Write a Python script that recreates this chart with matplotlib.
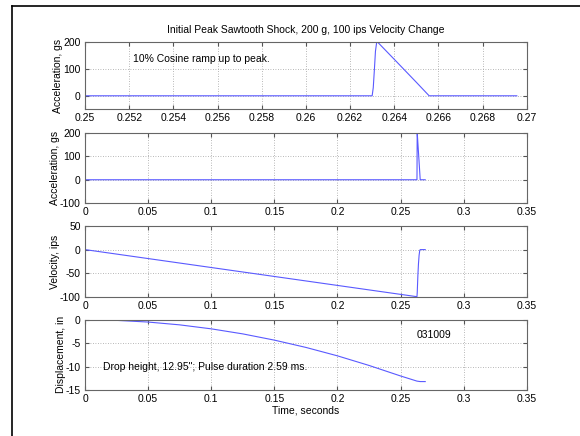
import matplotlib
matplotlib.use("Agg")
import matplotlib.pyplot as plt
from matplotlib.lines import Line2D

plt.rcParams['font.family'] = ['Liberation Sans', 'DejaVu Sans']
plt.rcParams['font.size'] = 7.5
plt.rcParams['axes.unicode_minus'] = False

# shock pulse (time in s, accel in g)
acc_t = [0.0, 0.2500, 0.26300, 0.26305, 0.26310, 0.26315, 0.26320, 0.26323,
         0.26400, 0.26500, 0.26558, 0.26955]
acc_g = [0, 0, 0, 30, 95, 165, 195, 200, 135, 50, 0, 0]

# velocity, ips
vel_t = [0.0, 0.2630, 0.26323, 0.2637, 0.2642, 0.2647, 0.2652, 0.26558, 0.26955]
vel_v = [0, -100, -91, -57, -30, -12, -2, 0, 0]

# displacement, in
dis_t = [0.0, 0.025, 0.05, 0.075, 0.1, 0.125, 0.15, 0.175, 0.2, 0.225, 0.25,
         0.263, 0.2656, 0.26955]
dis_d = [0.0, -0.12, -0.48, -1.08, -1.93, -3.01, -4.34, -5.9, -7.7, -9.75,
         -12.0, -13.1, -13.2, -13.2]

title = "Initial Peak Sawtooth Shock, 200 g, 100 ips Velocity Change"
line_c = '#5a5aff'

fig = plt.figure(figsize=(5.8, 4.36), dpi=100)
fig.patch.set_facecolor('white')

# border of the original window
fig.add_artist(Line2D([12/580, 1], [1-6/436, 1-6/436], color='black', lw=1.2))
fig.add_artist(Line2D([12/580, 12/580], [0, 1-6/436], color='black', lw=1.2))

left, width = 0.1466, 0.7616
boxes = [(0.7493, 0.155), (0.5344, 0.160), (0.3195, 0.162), (0.1055, 0.161)]
axs = [fig.add_axes([left, b, width, h]) for b, h in boxes]

for ax in axs:
    ax.grid(True, linestyle=(0, (1, 2)), color='#a0a0a0', lw=0.6)
    ax.tick_params(direction='in', top=True, right=True, length=3,
                   color='#555555', labelsize=7.5, pad=3)
    for s in ax.spines.values():
        s.set_color('#666666')
        s.set_linewidth(0.8)

ax = axs[0]
ax.plot(acc_t, acc_g, color=line_c, lw=0.8)
ax.set_xlim(0.25, 0.27)
ax.set_ylim(-50, 200)
ax.set_xticks([0.25, 0.252, 0.254, 0.256, 0.258, 0.26, 0.262, 0.264, 0.266, 0.268, 0.27])
ax.set_xticklabels(['0.25', '0.252', '0.254', '0.256', '0.258', '0.26', '0.262',
                    '0.264', '0.266', '0.268', '0.27'])
ax.set_yticks([0, 100, 200])
ax.set_ylabel("Acceleration, gs", labelpad=0)
ax.set_title(title, fontsize=7.5, pad=6)
ax.text(0.25217, 135, "10% Cosine ramp up to peak.", va='center', ha='left')

xt = [0, 0.05, 0.1, 0.15, 0.2, 0.25, 0.3, 0.35]
xtl = ['0', '0.05', '0.1', '0.15', '0.2', '0.25', '0.3', '0.35']

ax = axs[1]
ax.plot(acc_t, acc_g, color=line_c, lw=0.8)
ax.set_ylim(-100, 200)
ax.set_yticks([-100, 0, 100, 200])
ax.set_ylabel("Acceleration, gs", labelpad=0)

ax = axs[2]
ax.plot(vel_t, vel_v, color=line_c, lw=0.8)
ax.set_ylim(-100, 50)
ax.set_yticks([-100, -50, 0, 50])
ax.set_ylabel("Velocity, ips", labelpad=0)

ax = axs[3]
ax.plot(dis_t, dis_d, color=line_c, lw=0.8)
ax.set_ylim(-15, 0)
ax.set_yticks([-15, -10, -5, 0])
ax.set_ylabel("Displacement, in", labelpad=0)
ax.set_xlabel("Time, seconds", labelpad=1)
ax.text(0.0145, -10, 'Drop height, 12.95"; Pulse duration 2.59 ms.', va='center', ha='left')
ax.text(0.2628, -3.2, "031009", va='center', ha='left')

for ax in axs[1:]:
    ax.set_xlim(0, 0.35)
    ax.set_xticks(xt)
    ax.set_xticklabels(xtl)

fig.savefig("out.png", dpi=100)
